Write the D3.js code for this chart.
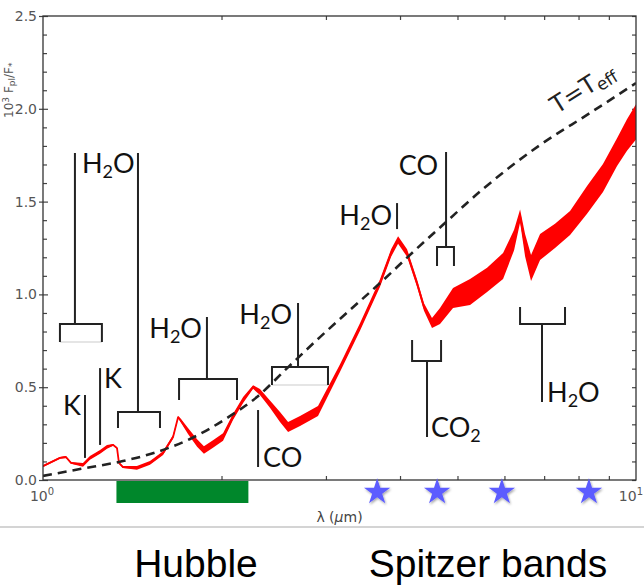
<!DOCTYPE html>
<html>
<head>
<meta charset="utf-8">
<script src="https://cdn.jsdelivr.net/npm/d3@7"></script>
<style>
  body { margin: 0; background: #fff; }
  svg { display: block; }
  .tick text { font-family: 'DejaVu Sans', sans-serif; font-size: 14px; fill: #555; }
  .tick line { stroke: #444; stroke-width: 1.2; }
  .mol { font-family: Lato, 'DejaVu Sans', sans-serif; font-size: 27px; fill: #111; }
  .mission { font-family: 'Liberation Sans', Arial, sans-serif; font-size: 39px; fill: #000; }
</style>
</head>
<body>
<svg width="644" height="585"></svg>
<script>
// planet/star flux ratio vs wavelength (um), noisy model spectrum
var specLam = [1.000, 1.068, 1.093, 1.115, 1.168, 1.200, 1.248, 1.282, 1.313, 1.333,
  1.343, 1.364, 1.440, 1.515, 1.594, 1.657, 1.690, 1.709, 1.756, 1.819,
  1.868, 1.935, 2.012, 2.091, 2.175, 2.261, 2.322, 2.414, 2.510, 2.590,
  2.713, 2.909, 3.169, 3.424, 3.701, 3.864, 3.970, 4.111, 4.272, 4.390,
  4.529, 4.672, 4.914, 5.250, 5.609, 5.968, 6.229, 6.376, 6.500, 6.653,
  6.890, 7.302, 7.741, 8.269, 8.797, 9.290, 9.656, 10.00];
var specVal = [0.075, 0.119, 0.124, 0.092, 0.081, 0.119, 0.151, 0.178, 0.189, 0.172,
  0.092, 0.070, 0.065, 0.092, 0.145, 0.232, 0.339, 0.318, 0.264, 0.199,
  0.162, 0.194, 0.232, 0.339, 0.431, 0.501, 0.474, 0.409, 0.339, 0.286,
  0.318, 0.372, 0.603, 0.824, 1.061, 1.223, 1.293, 1.223, 1.061, 0.932,
  0.846, 0.884, 0.981, 1.013, 1.078, 1.153, 1.293, 1.422, 1.266, 1.142,
  1.255, 1.315, 1.385, 1.509, 1.627, 1.767, 1.859, 1.929];
// half-width of the noise band around specVal
var specNoise = [0.005, 0.005, 0.005, 0.005, 0.010, 0.010, 0.010, 0.010, 0.005, 0.005,
  0.005, 0.005, 0.010, 0.010, 0.010, 0.010, 0.005, 0.010, 0.016, 0.020,
  0.020, 0.020, 0.020, 0.016, 0.016, 0.010, 0.016, 0.020, 0.027, 0.027,
  0.027, 0.027, 0.020, 0.020, 0.020, 0.020, 0.020, 0.020, 0.020, 0.020,
  0.027, 0.043, 0.054, 0.070, 0.065, 0.070, 0.055, 0.035, 0.060, 0.070,
  0.070, 0.065, 0.065, 0.075, 0.075, 0.075, 0.085, 0.095];

// blackbody at T = Teff
var bbLam = [1.000, 1.154, 1.364, 1.557, 1.770, 2.043, 2.295, 2.581, 2.932, 3.294,
  3.701, 4.207, 4.783, 5.521, 6.890, 8.362, 10.00];
var bbVal = [0.022, 0.059, 0.102, 0.151, 0.221, 0.334, 0.447, 0.603, 0.770, 0.916,
  1.061, 1.228, 1.390, 1.568, 1.805, 1.977, 2.139];

var yTicks = [0, 0.5, 1.0, 1.5, 2.0, 2.5];
var yMinor = [0.1, 0.2, 0.3, 0.4, 0.6, 0.7, 0.8, 0.9, 1.1, 1.2, 1.3, 1.4,
  1.6, 1.7, 1.8, 1.9, 2.1, 2.2, 2.3, 2.4];
var xMinor = [2, 3, 4, 5, 6, 7, 8, 9];
var xLabels = [{at: 1, exp: '0', anchor: 'middle'}, {at: 10, exp: '1', anchor: 'end'}];

var hubbleBand = [1.33, 2.22];
var spitzerBands = [3.66, 4.62, 5.94, 8.33];

// absorption feature markers
var brackets = [
  {lo: 1.068, hi: 1.257, at: 1.132, bar: 0.841, leg: 0.744, stem: 1.762, base: true},
  {lo: 1.338, hi: 1.575, at: 1.446, bar: 0.366, leg: 0.280, stem: 1.762},
  {lo: 1.696, hi: 2.124, at: 1.890, bar: 0.544, leg: 0.431, stem: 0.878},
  {lo: 2.433, hi: 3.024, at: 2.692, bar: 0.609, leg: 0.512, stem: 0.954, base: true},
  {lo: 4.618, hi: 4.932, at: 4.783, bar: 1.255, leg: 1.153, stem: 1.767},
  {lo: 4.192, hi: 4.691, at: 4.442, bar: 0.641, leg: 0.754, stem: 0.232},
  {lo: 6.375, hi: 7.591, at: 6.942, bar: 0.841, leg: 0.932, stem: 0.420}
];
var markLines = [
  {at: 1.177, top: 0.458, bottom: 0.119},
  {at: 1.248, top: 0.603, bottom: 0.189},
  {at: 2.305, top: 0.377, bottom: 0.070},
  {at: 3.954, top: 1.492, bottom: 1.352}
];
var markLabels = [
  {at: 1.159, v: 0.350, name: 'K', anchor: 'end'},
  {at: 1.267, v: 0.496, name: 'K', anchor: 'start'},
  {at: 1.163, v: 1.654, name: 'H2O', anchor: 'start'},
  {at: 1.854, v: 0.765, name: 'H2O', anchor: 'end'},
  {at: 2.630, v: 0.841, name: 'H2O', anchor: 'end'},
  {at: 2.350, v: 0.070, name: 'CO', anchor: 'start'},
  {at: 3.878, v: 1.374, name: 'H2O', anchor: 'end'},
  {at: 4.637, v: 1.643, name: 'CO', anchor: 'end'},
  {at: 4.511, v: 0.232, name: 'CO2', anchor: 'start'},
  {at: 7.079, v: 0.420, name: 'H2O', anchor: 'start'}
];

var svg = d3.select('svg');
var padding = {t: 16, r: 8, b: 105, l: 43};
var svgWidth = +svg.attr('width');
var svgHeight = +svg.attr('height');
var plotRight = svgWidth - padding.r;
var plotBottom = svgHeight - padding.b;

var x = d3.scaleLog().domain([1, 10]).range([padding.l, plotRight]);
var y = d3.scaleLinear().domain([0, 2.5]).range([plotBottom, padding.t]);

var defs = svg.append('defs');
defs.append('clipPath').attr('id', 'plot-clip')
  .append('rect')
  .attr('x', padding.l).attr('y', padding.t)
  .attr('width', plotRight - padding.l).attr('height', plotBottom - padding.t);
var shadow = defs.append('filter').attr('id', 'star-shadow')
  .attr('x', '-30%').attr('y', '-30%').attr('width', '160%').attr('height', '160%');
shadow.append('feDropShadow')
  .attr('dx', 1).attr('dy', 1.5).attr('stdDeviation', 1.2)
  .attr('flood-color', '#000').attr('flood-opacity', 0.35);

var spec = specLam.map(function(l, i) {
  return {lam: l, v: specVal[i], n: specNoise[i]};
});
var bb = bbLam.map(function(l, i) { return {lam: l, v: bbVal[i]}; });

// ticks: minor inside, major crossing the frame
svg.append('g')
  .attr('transform', 'translate(' + padding.l + ',0)')
  .call(d3.axisLeft(y).tickValues(yMinor).tickSize(-4).tickFormat(''))
  .call(function(g) { g.select('.domain').remove(); });
svg.append('g')
  .attr('transform', 'translate(' + padding.l + ',0)')
  .call(d3.axisLeft(y).tickValues(yTicks).tickFormat(d3.format('.1f')).tickSize(4).tickPadding(2))
  .call(function(g) {
    g.select('.domain').remove();
    g.selectAll('.tick line').attr('x1', 5);
  });
svg.append('g')
  .attr('transform', 'translate(' + plotRight + ',0)')
  .call(d3.axisRight(y).tickValues(yMinor.concat(yTicks)).tickSize(-4).tickFormat(''))
  .call(function(g) { g.select('.domain').remove(); });
svg.append('g')
  .attr('transform', 'translate(0,' + plotBottom + ')')
  .call(d3.axisBottom(x).tickValues(xMinor).tickSize(-4).tickFormat(''))
  .call(function(g) { g.select('.domain').remove(); });
svg.append('g')
  .attr('transform', 'translate(0,' + padding.t + ')')
  .call(d3.axisTop(x).tickValues(xMinor).tickSize(-4).tickFormat(''))
  .call(function(g) { g.select('.domain').remove(); });

// 10^n labels on the log axis
var xl = svg.append('g').selectAll('text')
  .data(xLabels).enter().append('text')
  .attr('x', function(d) { return d.anchor === 'end' ? svgWidth - 1 : x(d.at) - 1; })
  .attr('y', plotBottom + 21)
  .attr('text-anchor', function(d) { return d.anchor; })
  .style('font-family', 'DejaVu Sans, sans-serif')
  .style('font-size', '14px')
  .style('fill', '#555');
xl.append('tspan').text('10');
xl.append('tspan').attr('dy', -6).style('font-size', '10px').text(function(d) { return d.exp; });

svg.append('text')
  .attr('x', (padding.l + plotRight) / 2)
  .attr('y', plotBottom + 42)
  .attr('text-anchor', 'middle')
  .style('font-family', 'DejaVu Sans, sans-serif')
  .style('font-size', '14px')
  .style('fill', '#444')
  .html('λ (<tspan font-style="italic">μ</tspan>m)');

// y label, squeezed against the left edge
var yl = svg.append('text')
  .attr('transform', 'translate(13,' + y(2.1) + ') rotate(-90)')
  .attr('text-anchor', 'middle')
  .style('font-family', 'DejaVu Sans, sans-serif')
  .style('font-size', '12px')
  .style('fill', '#555');
yl.append('tspan').text('10');
yl.append('tspan').attr('dy', -4).style('font-size', '9px').text('3');
yl.append('tspan').attr('dy', 4).text(' F');
yl.append('tspan').attr('dy', 2).style('font-size', '9px').text('pl');
yl.append('tspan').attr('dy', -2).text('/F');
yl.append('tspan').attr('dy', 2).style('font-size', '9px').text('*');

// spectrum
var plot = svg.append('g').attr('clip-path', 'url(#plot-clip)');
plot.append('path')
  .datum(spec)
  .attr('fill', '#ff0000')
  .attr('d', d3.area()
    .x(function(d) { return x(d.lam); })
    .y0(function(d) { return y(d.v - d.n); })
    .y1(function(d) { return y(d.v + d.n); }));
plot.append('path')
  .datum(spec)
  .attr('fill', 'none')
  .attr('stroke', '#ff0000')
  .attr('stroke-width', 1.8)
  .attr('stroke-linejoin', 'round')
  .attr('d', d3.line()
    .x(function(d) { return x(d.lam); })
    .y(function(d) { return y(d.v); }));

plot.append('path')
  .datum(bb)
  .attr('fill', 'none')
  .attr('stroke', '#222')
  .attr('stroke-width', 2.6)
  .attr('stroke-dasharray', '9,6')
  .attr('d', d3.line()
    .curve(d3.curveMonotoneX)
    .x(function(d) { return x(d.lam); })
    .y(function(d) { return y(d.v); }));

var teff = svg.append('text')
  .attr('transform', 'translate(' + x(7.35) + ',' + y(1.97) + ') rotate(-32)')
  .style('font-family', 'DejaVu Sans, sans-serif')
  .style('font-size', '24px')
  .style('fill', '#222');
teff.append('tspan').text('T=T');
teff.append('tspan').attr('dy', 4).style('font-size', '17px').text('eff');

// feature markers
var marks = svg.append('g')
  .attr('stroke', '#222')
  .attr('stroke-width', 2)
  .attr('fill', 'none');

var br = marks.selectAll('g.bracket').data(brackets).enter().append('g').attr('class', 'bracket');
br.filter(function(d) { return d.base; }).append('line')
  .attr('stroke', '#ddd')
  .attr('stroke-width', 1.5)
  .attr('x1', function(d) { return x(d.lo); })
  .attr('x2', function(d) { return x(d.hi); })
  .attr('y1', function(d) { return y(d.leg); })
  .attr('y2', function(d) { return y(d.leg); });
br.append('path')
  .attr('d', function(d) {
    return 'M' + x(d.lo) + ',' + y(d.leg) + 'V' + y(d.bar) +
      'H' + x(d.hi) + 'V' + y(d.leg) +
      'M' + x(d.at) + ',' + y(d.bar) + 'V' + y(d.stem);
  });

marks.selectAll('line.mark').data(markLines).enter().append('line')
  .attr('class', 'mark')
  .attr('x1', function(d) { return x(d.at); })
  .attr('x2', function(d) { return x(d.at); })
  .attr('y1', function(d) { return y(d.top); })
  .attr('y2', function(d) { return y(d.bottom); });

var lab = svg.append('g').selectAll('text')
  .data(markLabels).enter().append('text')
  .attr('class', 'mol')
  .attr('x', function(d) { return x(d.at); })
  .attr('y', function(d) { return y(d.v); })
  .attr('text-anchor', function(d) { return d.anchor; });
lab.each(function(d) {
  var t = d3.select(this);
  var sub = false;
  d.name.split('').forEach(function(ch) {
    var isDigit = /[0-9]/.test(ch);
    var ts = t.append('tspan').text(ch);
    if (isDigit && !sub) { ts.attr('dy', 5).style('font-size', '18px'); sub = true; }
    else if (!isDigit && sub) { ts.attr('dy', -5); sub = false; }
  });
});

// frame
svg.append('rect')
  .attr('x', padding.l).attr('y', padding.t)
  .attr('width', plotRight - padding.l).attr('height', plotBottom - padding.t)
  .attr('fill', 'none')
  .attr('stroke', '#333')
  .attr('stroke-width', 1.3);

// observing bands under the axis
svg.append('rect')
  .attr('x', x(hubbleBand[0]))
  .attr('y', plotBottom + 1)
  .attr('width', x(hubbleBand[1]) - x(hubbleBand[0]))
  .attr('height', 22)
  .attr('fill', '#00872b');

svg.append('g').selectAll('path')
  .data(spitzerBands).enter().append('path')
  .attr('transform', function(d) { return 'translate(' + x(d) + ',' + (plotBottom + 12) + ')'; })
  .attr('d', d3.symbol().type(d3.symbolStar).size(215))
  .attr('fill', '#5b5bff')
  .attr('filter', 'url(#star-shadow)');

svg.append('line')
  .attr('x1', 0).attr('x2', svgWidth)
  .attr('y1', plotBottom + 47).attr('y2', plotBottom + 47)
  .attr('stroke', '#d4d4d4')
  .attr('stroke-width', 2);

svg.append('text')
  .attr('class', 'mission')
  .attr('x', 196)
  .attr('y', svgHeight - 8)
  .attr('text-anchor', 'middle')
  .text('Hubble');
svg.append('text')
  .attr('class', 'mission')
  .attr('x', 488)
  .attr('y', svgHeight - 8)
  .attr('text-anchor', 'middle')
  .text('Spitzer bands');
</script>
</body>
</html>
